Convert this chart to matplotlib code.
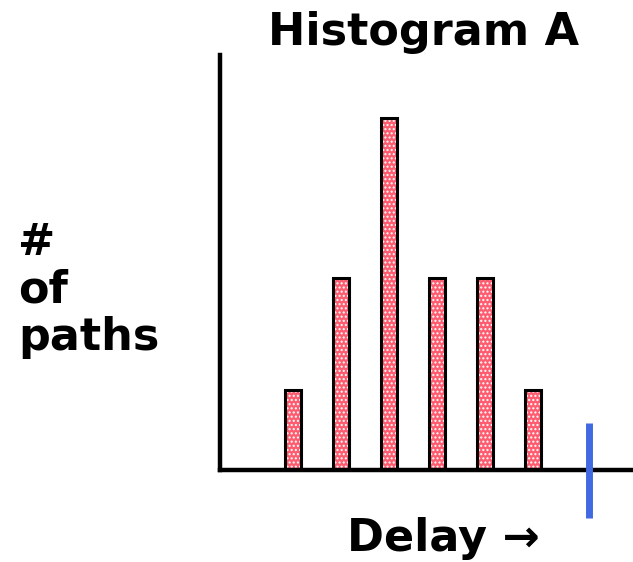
import matplotlib
matplotlib.use("Agg")
import matplotlib.pyplot as plt

plt.rcParams['font.family'] = ['DejaVu Sans']

# bar positions (delay bins) and counts
bins = [1, 2, 3, 4, 5, 6]
counts = [1, 2.4, 4.4, 2.4, 2.4, 1]
deadline = 7.17

W, H = 633, 562
fig = plt.figure(figsize=(W / 100, H / 100), dpi=100)
ax = fig.add_axes([220 / W, 92 / H, (633 - 220) / W, 415 / H])

# pink fill with white dots, then black outline
ax.bar(bins, counts, width=0.33, color='#ff5c70', edgecolor='white',
       hatch='....', linewidth=0)
ax.bar(bins, counts, width=0.33, fill=False, edgecolor='black', linewidth=2.2)

ax.plot([deadline, deadline], [-0.6, 0.59], color='#4169e1', lw=5,
        solid_capstyle='butt', clip_on=False, zorder=5)

ax.set_xlim(-0.52, 8.08)
ax.set_ylim(0, 5.19)
for s in ['top', 'right']:
    ax.spines[s].set_visible(False)
for s in ['left', 'bottom']:
    ax.spines[s].set_linewidth(3.2)
ax.set_xticks([])
ax.set_yticks([])
ax.patch.set_alpha(0)

fig.text(424 / W, 1 - 32 / H, 'Histogram A', ha='center', va='center',
         fontsize=32, fontweight='bold')
fig.text(18 / W, 1 - 290 / H, '#\nof\npaths', ha='left', va='center',
         fontsize=32, fontweight='bold', linespacing=1.12)
fig.text(443 / W, 1 - 538 / H, 'Delay \u2192', ha='center', va='center',
         fontsize=32, fontweight='bold')

fig.savefig('out.png', dpi=100)
